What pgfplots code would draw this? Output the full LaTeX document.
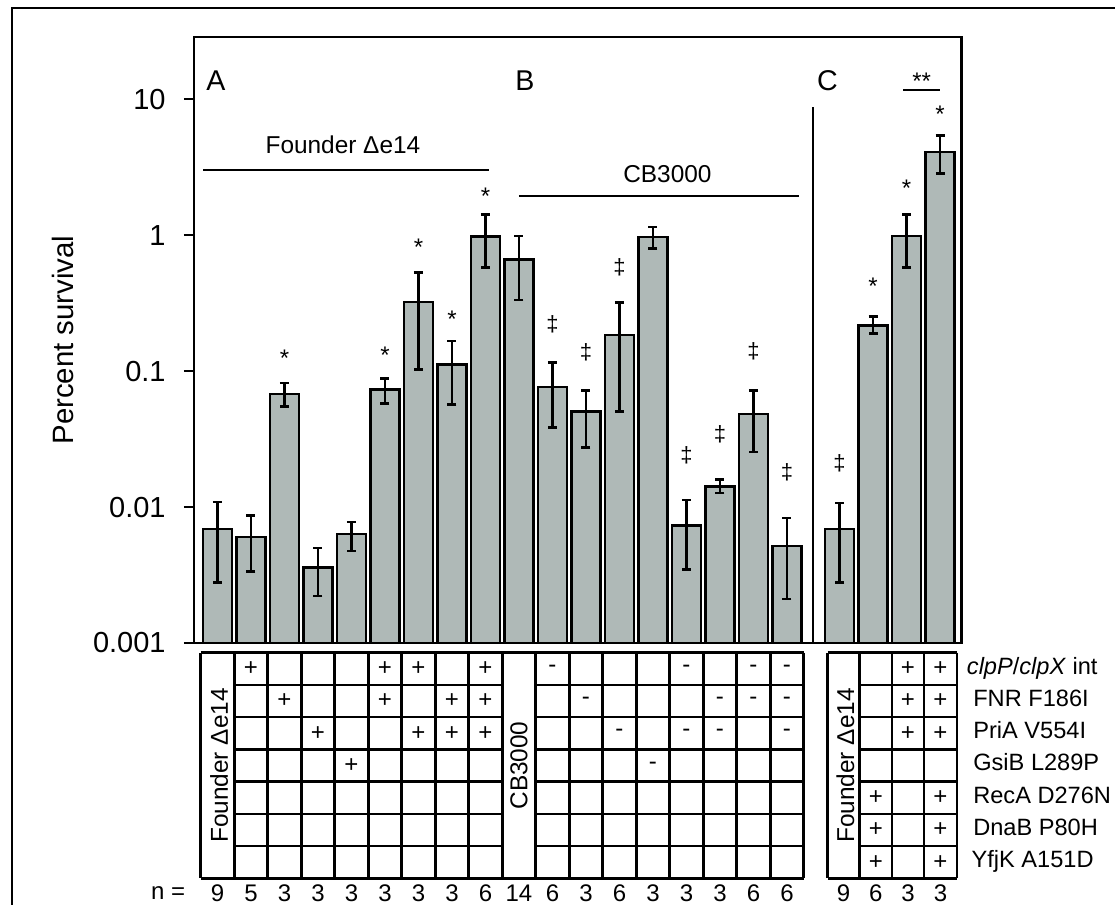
\documentclass[border=0pt]{standalone}
\usepackage{pgfplots}
\pgfplotsset{compat=1.18}
\usepackage{fontspec}
\setmainfont{Liberation Sans}
\definecolor{barfill}{RGB}{175,185,183}

\pgfplotstableread{
x     y        ep       em
1     0.00688  0.00400  0.00408
2     0.00600  0.00262  0.00265
3     0.0679   0.0139   0.0128
4     0.00359  0.00139  0.00137
5     0.00632  0.00143  0.00156
6     0.0731   0.0150   0.0151
7     0.321    0.207    0.2184
8     0.1117   0.0543   0.0551
9     0.980    0.440    0.405
10    0.662    0.323    0.330
11    0.0765   0.0395   0.0379
12    0.0506   0.0216   0.0231
13    0.1836   0.1344   0.1330
14    0.968    0.178    0.174
15    0.00731  0.00399  0.00382
16    0.01417  0.00171  0.00150
17    0.0484   0.0238   0.0230
18    0.00518  0.00311  0.00307
19.57 0.00688  0.00382  0.00410
20.57 0.2163   0.0343   0.0283
21.57 0.985    0.425    0.410
22.57 4.09     1.28     1.24
}\survival

\tikzset{
  ast/.style={font=\fontsize{12}{12}\selectfont, inner sep=0pt, anchor=center, yshift=-2.6pt},
  dd/.style={font=\fontsize{11}{11}\selectfont, inner sep=0pt, anchor=center},
  cell/.style={font=\fontsize{12}{12}\selectfont, inner sep=0pt, anchor=center},
  rowlab/.style={font=\fontsize{11.8}{11.8}\selectfont, inner sep=0pt, anchor=mid west},
  nlab/.style={font=\fontsize{12}{12}\selectfont, inner sep=0pt, anchor=center},
  tl/.style={line width=1.3pt},
}

\begin{document}
\begin{tikzpicture}
\useasboundingbox (0,0) rectangle (557.5pt,-452.5pt);
\draw[line width=1.1pt] (6pt,-470pt) -- (6pt,-4pt) -- (570pt,-4pt);

\begin{axis}[
  at={(97pt,-321.5pt)}, anchor=south west,
  scale only axis, width=383.85pt, height=303pt,
  ymode=log, log origin=infty,
  ymin=0.001, ymax=28.6,
  xmin=0.30, xmax=23.215,
  axis line style={line width=1.3pt},
  xtick=\empty,
  ytick={0.001,0.01,0.1,1,10},
  yticklabels={0.001,0.01,0.1,1,10},
  ytick pos=left, tick align=outside, major tick length=5pt,
  yminorticks=false,
  tick style={line width=1.3pt, black},
  yticklabel style={font=\fontsize{14.5}{14.5}\selectfont, inner sep=0pt, xshift=-9pt},
  /pgf/number format/assume math mode=true,
  ylabel={Percent survival},
  ylabel style={font=\fontsize{14.7}{14.7}\selectfont, at={(axis description cs:-0.1576,0.5)}, anchor=base, inner sep=0pt},
  clip=false,
]
\addplot[ybar, bar width=0.87, fill=barfill, draw=black, line width=1.3pt,
  error bars/.cd, y dir=both, y explicit,
  error bar style={line width=1.3pt, black},
  error mark options={line width=1.3pt, mark size=2.25pt, black, rotate=90}]
  table[x=x, y=y, y error plus=ep, y error minus=em] {\survival};

% panel letters
\node[font=\fontsize{14.3}{14.3}\selectfont, anchor=base west, inner sep=0pt] at (axis cs:0.657,11.51) {A};
\node[font=\fontsize{14.3}{14.3}\selectfont, anchor=base west, inner sep=0pt] at (axis cs:9.88,11.51) {B};
\node[font=\fontsize{14.3}{14.3}\selectfont, anchor=base west, inner sep=0pt] at (axis cs:18.89,11.51) {C};

% group labels
\node[font=\fontsize{12.2}{12.2}\selectfont, anchor=base, inner sep=0pt] at (axis cs:4.746,4.0) {Founder Δe14};
\draw[tl] (axis cs:0.576,3.0) -- (axis cs:9.11,3.0);
\node[font=\fontsize{12.2}{12.2}\selectfont, anchor=base, inner sep=0pt] at (axis cs:14.43,2.43) {CB3000};
\draw[tl] (axis cs:10.0,1.94) -- (axis cs:18.37,1.94);

% separator
\draw[tl] (axis cs:18.78,8.69) -- (axis cs:18.78,0.001);

% significance asterisks
\node[ast] at (axis cs:3,0.136) {*};
\node[ast] at (axis cs:6,0.142) {*};
\node[ast] at (axis cs:7,0.895) {*};
\node[ast] at (axis cs:8,0.261) {*};
\node[ast] at (axis cs:9,2.11) {*};
\node[ast] at (axis cs:20.57,0.459) {*};
\node[ast] at (axis cs:21.57,2.40) {*};
\node[ast] at (axis cs:22.57,8.44) {*};
\node[ast] at (axis cs:22.02,14.85) {**};
\draw[tl] (axis cs:21.47,11.65) -- (axis cs:22.57,11.65);

% double daggers
\node[dd] at (axis cs:11,0.220) {‡};
\node[dd] at (axis cs:12,0.1376) {‡};
\node[dd] at (axis cs:13,0.575) {‡};
\node[dd] at (axis cs:15,0.02385) {‡};
\node[dd] at (axis cs:16,0.0340) {‡};
\node[dd] at (axis cs:17,0.140) {‡};
\node[dd] at (axis cs:18,0.01797) {‡};
\node[dd] at (axis cs:19.57,0.0211) {‡};
\end{axis}

% ---------- genotype table ----------
\begin{axis}[
  at={(97pt,-439.15pt)}, anchor=south west,
  scale only axis, width=383.85pt, height=112.8pt,
  xmin=0.30, xmax=23.215, ymin=0, ymax=7, y dir=reverse,
  axis lines=none, clip=false,
]
% A+B table verticals
\pgfplotsinvokeforeach{0.5,1.5,2.5,3.5,4.5,5.5,6.5,7.5,8.5,9.5,10.5,11.5,12.5,13.5,14.5,15.5,16.5,17.5,18.5}{
  \draw[tl] (axis cs:#1,0) -- (axis cs:#1,7);
}
\draw[tl] (axis cs:0.5,0) -- (axis cs:18.5,0);
\draw[tl] (axis cs:0.5,7) -- (axis cs:18.5,7);
\pgfplotsinvokeforeach{1,2,3,4,5,6}{
  \draw[tl] (axis cs:1.5,#1) -- (axis cs:9.5,#1);
  \draw[tl] (axis cs:10.5,#1) -- (axis cs:18.5,#1);
}
% C table
\pgfplotsinvokeforeach{19.21,20.17,21.13,22.09,23.07}{
  \draw[tl] (axis cs:#1,0) -- (axis cs:#1,7);
}
\draw[tl] (axis cs:19.21,0) -- (axis cs:23.07,0);
\draw[tl] (axis cs:19.21,7) -- (axis cs:23.07,7);
\pgfplotsinvokeforeach{1,2,3,4,5,6}{
  \draw[tl] (axis cs:20.17,#1) -- (axis cs:23.07,#1);
}
% merged labels
\node[font=\fontsize{12.2}{12.2}\selectfont, rotate=90, inner sep=0pt, anchor=center] at (axis cs:1.05,3.5) {Founder Δe14};
\node[font=\fontsize{12.2}{12.2}\selectfont, rotate=90, inner sep=0pt, anchor=center] at (axis cs:10.0,3.5) {CB3000};
\node[font=\fontsize{12.2}{12.2}\selectfont, rotate=90, inner sep=0pt, anchor=center] at (axis cs:19.74,3.5) {Founder Δe14};

% plus signs group A
\node[cell] at (axis cs:2,0.5) {+};
\node[cell] at (axis cs:6,0.5) {+};
\node[cell] at (axis cs:7,0.5) {+};
\node[cell] at (axis cs:9,0.5) {+};
\node[cell] at (axis cs:3,1.5) {+};
\node[cell] at (axis cs:6,1.5) {+};
\node[cell] at (axis cs:8,1.5) {+};
\node[cell] at (axis cs:9,1.5) {+};
\node[cell] at (axis cs:4,2.5) {+};
\node[cell] at (axis cs:7,2.5) {+};
\node[cell] at (axis cs:8,2.5) {+};
\node[cell] at (axis cs:9,2.5) {+};
\node[cell] at (axis cs:5,3.5) {+};
% minus signs group B
\node[cell] at (axis cs:11,0.5) {-};
\node[cell] at (axis cs:15,0.5) {-};
\node[cell] at (axis cs:17,0.5) {-};
\node[cell] at (axis cs:18,0.5) {-};
\node[cell] at (axis cs:12,1.5) {-};
\node[cell] at (axis cs:16,1.5) {-};
\node[cell] at (axis cs:17,1.5) {-};
\node[cell] at (axis cs:18,1.5) {-};
\node[cell] at (axis cs:13,2.5) {-};
\node[cell] at (axis cs:15,2.5) {-};
\node[cell] at (axis cs:16,2.5) {-};
\node[cell] at (axis cs:18,2.5) {-};
\node[cell] at (axis cs:14,3.5) {-};
% plus signs group C
\node[cell] at (axis cs:21.61,0.5) {+};
\node[cell] at (axis cs:22.58,0.5) {+};
\node[cell] at (axis cs:21.61,1.5) {+};
\node[cell] at (axis cs:22.58,1.5) {+};
\node[cell] at (axis cs:21.61,2.5) {+};
\node[cell] at (axis cs:22.58,2.5) {+};
\node[cell] at (axis cs:20.65,4.5) {+};
\node[cell] at (axis cs:22.58,4.5) {+};
\node[cell] at (axis cs:20.65,5.5) {+};
\node[cell] at (axis cs:22.58,5.5) {+};
\node[cell] at (axis cs:20.65,6.5) {+};
\node[cell] at (axis cs:22.58,6.5) {+};

% row labels
\node[rowlab] at (axis cs:23.36,0.5) {\textit{clpP}/\textit{clpX} int};
\node[rowlab] at (axis cs:23.55,1.5) {FNR F186I};
\node[rowlab] at (axis cs:23.55,2.5) {PriA V554I};
\node[rowlab] at (axis cs:23.55,3.5) {GsiB L289P};
\node[rowlab] at (axis cs:23.55,4.5) {RecA D276N};
\node[rowlab] at (axis cs:23.55,5.5) {DnaB P80H};
\node[rowlab] at (axis cs:23.50,6.5) {YfjK A151D};

% n row
\node[nlab, anchor=east] at (axis cs:0.05,7.47) {n =};
\node[nlab] at (axis cs:1,7.47) {9};
\node[nlab] at (axis cs:2,7.47) {5};
\node[nlab] at (axis cs:3,7.47) {3};
\node[nlab] at (axis cs:4,7.47) {3};
\node[nlab] at (axis cs:5,7.47) {3};
\node[nlab] at (axis cs:6,7.47) {3};
\node[nlab] at (axis cs:7,7.47) {3};
\node[nlab] at (axis cs:8,7.47) {3};
\node[nlab] at (axis cs:9,7.47) {6};
\node[nlab] at (axis cs:10,7.47) {14};
\node[nlab] at (axis cs:11,7.47) {6};
\node[nlab] at (axis cs:12,7.47) {3};
\node[nlab] at (axis cs:13,7.47) {6};
\node[nlab] at (axis cs:14,7.47) {3};
\node[nlab] at (axis cs:15,7.47) {3};
\node[nlab] at (axis cs:16,7.47) {3};
\node[nlab] at (axis cs:17,7.47) {6};
\node[nlab] at (axis cs:18,7.47) {6};
\node[nlab] at (axis cs:19.69,7.47) {9};
\node[nlab] at (axis cs:20.65,7.47) {6};
\node[nlab] at (axis cs:21.61,7.47) {3};
\node[nlab] at (axis cs:22.58,7.47) {3};
\end{axis}
\end{tikzpicture}
\end{document}
